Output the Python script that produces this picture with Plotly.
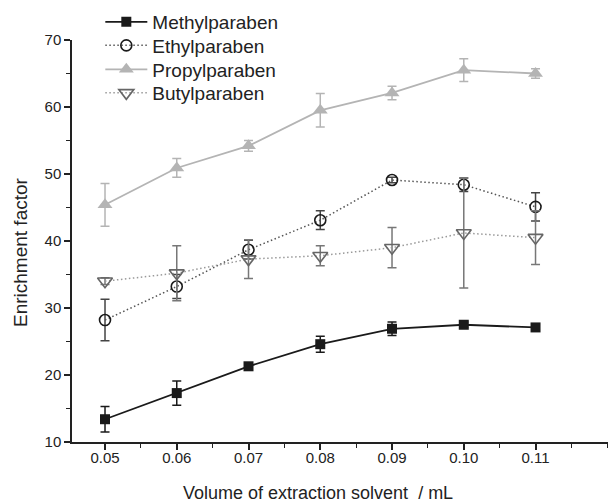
import plotly.graph_objects as go

volume = [0.05, 0.06, 0.07, 0.08, 0.09, 0.10, 0.11]
methyl = [13.4, 17.3, 21.3, 24.6, 26.9, 27.5, 27.1]
methyl_err = [1.9, 1.8, 0.4, 1.2, 1.0, 0.4, 0.4]
ethyl = [28.2, 33.2, 38.7, 43.1, 49.1, 48.4, 45.1]
ethyl_err = [3.1, 1.8, 1.4, 1.4, 0.4, 1.0, 2.1]
propyl = [45.4, 50.9, 54.2, 59.5, 62.1, 65.5, 65.0]
propyl_err = [3.2, 1.4, 0.8, 2.5, 1.0, 1.7, 0.7]
butyl = [34.0, 35.2, 37.3, 37.8, 39.0, 41.2, 40.5]
butyl_err = [0.5, 4.1, 2.9, 1.5, 3.0, 8.2, 4.0]

FONT = "Liberation Sans, Arial, sans-serif"
DOT = "1.5px,2.5px"
TXT = "#222222"

fig = go.Figure()

fig.add_trace(go.Scatter(
    x=volume, y=methyl, name="Methylparaben", mode="lines+markers", legend="legend",
    line=dict(color="#1a1a1a", width=1.8),
    marker=dict(symbol="square", size=10, color="#1a1a1a"),
    error_y=dict(type="data", array=methyl_err, color="#1a1a1a", thickness=1.5, width=4.5),
))
fig.add_trace(go.Scatter(
    x=volume, y=ethyl, name="Ethylparaben", mode="lines+markers", legend="legend2",
    line=dict(color="#555555", width=1.5, dash=DOT),
    marker=dict(symbol="circle-open", size=11, color="#1a1a1a", line=dict(width=1.6)),
    error_y=dict(type="data", array=ethyl_err, color="#444444", thickness=1.5, width=4.5),
))
fig.add_trace(go.Scatter(
    x=volume, y=propyl, name="Propylparaben", mode="lines+markers", legend="legend3",
    line=dict(color="#b4b4b4", width=1.8),
    marker=dict(symbol="triangle-up", size=13, color="#b4b4b4"),
    error_y=dict(type="data", array=propyl_err, color="#b4b4b4", thickness=1.5, width=4.5),
))
fig.add_trace(go.Scatter(
    x=volume, y=butyl, name="Butylparaben", mode="lines+markers", legend="legend4",
    line=dict(color="#999999", width=1.5, dash=DOT),
    marker=dict(symbol="triangle-down-open", size=13, color="#666666", line=dict(width=1.6)),
    error_y=dict(type="data", array=butyl_err, color="#777777", thickness=1.5, width=4.5),
))

def leg(ypx):
    return dict(
        x=0.165, y=1 - ypx / 502, xref="container", yref="container",
        xanchor="left", yanchor="middle",
        font=dict(family=FONT, size=19, color=TXT),
        bgcolor="rgba(0,0,0,0)", itemwidth=42,
    )

fig.update_layout(
    width=608, height=502,
    margin=dict(l=72, r=0, t=40, b=60, autoexpand=False),
    paper_bgcolor="white", plot_bgcolor="white",
    font=dict(family=FONT, color=TXT, size=15),
    showlegend=True,
    legend=leg(22), legend2=leg(45.5), legend3=leg(69.5), legend4=leg(93),
    xaxis=dict(
        range=[0.0454, 0.1201], tickmode="array", tickvals=volume,
        ticktext=[f"{v:.2f}" for v in volume],
        showline=True, linecolor=TXT, linewidth=1.5,
        ticks="outside", ticklen=6, tickwidth=1.5, tickcolor=TXT,
        showgrid=False, zeroline=False, automargin=False,
        minor=dict(dtick=0.005, tick0=0.045, ticks="outside", ticklen=4, tickwidth=1.2, tickcolor=TXT),
        tickfont=dict(size=15), ticklabelstandoff=-5,
    ),
    yaxis=dict(
        range=[10, 70], dtick=10, tick0=10,
        showline=True, linecolor=TXT, linewidth=1.5,
        ticks="outside", ticklen=6, tickwidth=1.5, tickcolor=TXT,
        showgrid=False, zeroline=False, automargin=False,
        minor=dict(dtick=5, tick0=10, ticks="outside", ticklen=4, tickwidth=1.2, tickcolor=TXT),
        tickfont=dict(size=15),
    ),
    annotations=[
        dict(text="Volume of extraction solvent  / mL", xref="paper", yref="paper",
             x=(318 - 72) / 536, y=-(493 - 442) / 402, xanchor="center", yanchor="middle",
             showarrow=False, font=dict(size=18, family=FONT, color=TXT)),
        dict(text="Enrichment factor", xref="paper", yref="paper",
             x=(20 - 72) / 536, y=(442 - 252) / 402, xanchor="center", yanchor="middle",
             textangle=-90, showarrow=False, font=dict(size=19, family=FONT, color=TXT)),
    ],
)

fig.write_html("out.html", post_script="document.body.style.margin='0';",
               config={"displayModeBar": False})
